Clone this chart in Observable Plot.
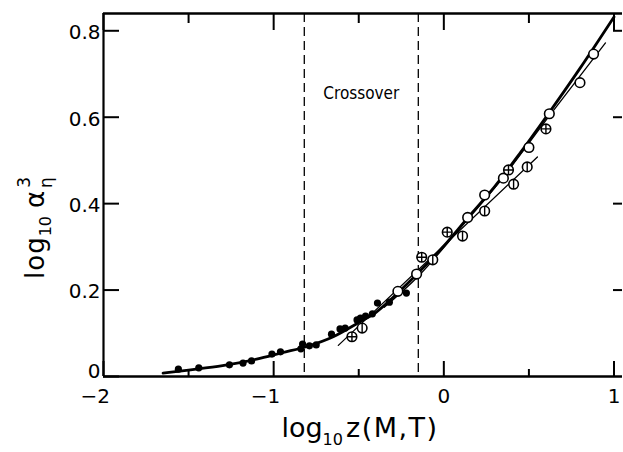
<!DOCTYPE html>
<html>
<head>
<meta charset="utf-8">
<script src="https://cdn.jsdelivr.net/npm/d3@7"></script>
<script src="https://cdn.jsdelivr.net/npm/@observablehq/plot@0.6"></script>
<style>
  html, body { margin: 0; padding: 0; background: #fff; }
  #chart svg { display: block; font-family: "DejaVu Sans", sans-serif; }
</style>
</head>
<body>
<div id="chart"></div>
<script>
// ---- data ----
const xMajorTicks = [-2, -1, 0, 1];
const xMinorTicks = [-1.5, -0.5, 0.5];
const yTicks = [0, 0.2, 0.4, 0.6, 0.8];
const yTickLabels = ["0", "0.2", "0.4", "0.6", "0.8"];
const xTickLabels = ["\u22122", "\u22121", "0", "1"];

const crossoverBounds = [-0.82, -0.15];
const crossoverLabel = "Crossover";
const crossoverLabelY = 0.655;

// filled dots
const filledX = [-1.56, -1.44, -1.26, -1.18, -1.13, -1.01, -0.96, -0.84, -0.83, -0.79, -0.75, -0.66, -0.61, -0.58, -0.51, -0.49, -0.46, -0.42, -0.39, -0.32, -0.22];
const filledY = [0.017, 0.020, 0.027, 0.031, 0.036, 0.052, 0.057, 0.064, 0.075, 0.071, 0.073, 0.098, 0.110, 0.112, 0.131, 0.135, 0.140, 0.145, 0.170, 0.172, 0.193];

// open circles
const openX = [-0.27, -0.16, 0.14, 0.24, 0.35, 0.50, 0.62, 0.80, 0.88];
const openY = [0.197, 0.237, 0.368, 0.420, 0.459, 0.530, 0.608, 0.680, 0.746];

// circles with a cross
const crossX = [-0.54, -0.13, 0.02, 0.38, 0.60];
const crossY = [0.092, 0.276, 0.334, 0.478, 0.573];

// circles with a vertical bar
const barX = [-0.48, -0.065, 0.11, 0.24, 0.41, 0.49];
const barY = [0.112, 0.270, 0.325, 0.383, 0.445, 0.485];

// thick master curve
const mainX = [-1.65, -1.5, -1.3, -1.1, -0.95, -0.8, -0.65, -0.5, -0.4, -0.29, -0.14, 0, 0.14, 0.3, 0.45, 0.6, 0.8, 1.0];
const mainY = [0.008, 0.015, 0.025, 0.040, 0.055, 0.070, 0.092, 0.125, 0.148, 0.186, 0.244, 0.302, 0.367, 0.440, 0.518, 0.600, 0.713, 0.832];

// thin upper line
const upperX = [-0.35, -0.15, 0.1, 0.3, 0.62, 0.95];
const upperY = [0.160, 0.232, 0.345, 0.437, 0.603, 0.772];

// thin lower line
const lowerX = [-0.62, 0.55];
const lowerY = [0.072, 0.508];

const zip = (xs, ys) => xs.map((x, i) => ({x, y: ys[i]}));
const filledPts = zip(filledX, filledY);
const openPts = zip(openX, openY);
const crossPts = zip(crossX, crossY);
const barPts = zip(barX, barY);
const mainPts = zip(mainX, mainY);
const upperPts = zip(upperX, upperY);
const lowerPts = zip(lowerX, lowerY);

const vbarSymbol = {
  draw(context, size) {
    const r = Math.sqrt(size / Math.PI);
    context.moveTo(0, -r);
    context.lineTo(0, r);
  }
};
const plusSymbol = {
  draw(context, size) {
    const r = Math.sqrt(size / Math.PI);
    context.moveTo(0, -r);
    context.lineTo(0, r);
    context.moveTo(-r, 0);
    context.lineTo(r, 0);
  }
};

const W = 623, H = 452, ML = 103, MR = 1, MT = 13, MB = 76;
const FW = W - ML - MR, FH = H - MT - MB;

const font = "DejaVu Sans, sans-serif";

const chart = Plot.plot({
  width: W,
  height: H,
  marginLeft: ML,
  marginRight: MR,
  marginTop: MT,
  marginBottom: MB,
  x: {domain: [-2, 1.05], axis: null},
  y: {domain: [0, 0.84], axis: null},
  marks: [
    Plot.ruleX(crossoverBounds, {stroke: "#000", strokeWidth: 1.3, strokeDasharray: "9,5"}),
    Plot.ruleX([-2], {stroke: "#000", strokeWidth: 2.2}),
    Plot.ruleY([0, 0.84], {stroke: "#000", strokeWidth: 2.4}),
    // inward ticks
    Plot.ruleX(xMajorTicks, {insetTop: FH - 15, stroke: "#000", strokeWidth: 2}),
    Plot.ruleX(xMinorTicks, {insetTop: FH - 7, stroke: "#000", strokeWidth: 2}),
    Plot.ruleX(xMajorTicks, {insetBottom: FH - 17, stroke: "#000", strokeWidth: 2}),
    Plot.ruleX(xMinorTicks, {insetBottom: FH - 10, stroke: "#000", strokeWidth: 2}),
    Plot.ruleY(yTicks, {insetRight: FW - 16, stroke: "#000", strokeWidth: 2}),
    Plot.ruleY(yTicks.filter(v => v > 0), {insetLeft: FW - 9, stroke: "#000", strokeWidth: 2}),
    // tick labels
    Plot.text(xMajorTicks, {x: d => d, text: (d, i) => xTickLabels[i], frameAnchor: "bottom", lineAnchor: "top", dy: 12, textAnchor: "end", dx: 6.5, fontSize: 20, fill: "#000", fontFamily: font}),
    Plot.text(yTicks.slice(1), {y: d => d, text: (d, i) => yTickLabels[i + 1], frameAnchor: "left", textAnchor: "end", dx: -3, dy: 2, fontSize: 20, fill: "#000", fontFamily: font}),
    Plot.text(yTicks.slice(0, 1), {y: d => d, text: (d, i) => yTickLabels[i], frameAnchor: "left", textAnchor: "end", dx: -3, dy: -5, fontSize: 20, fill: "#000", fontFamily: font}),
    Plot.text([crossoverLabel], {x: (crossoverBounds[0] + crossoverBounds[1]) / 2, y: crossoverLabelY, text: d => d, fontSize: 17, fill: "#000", fontFamily: "DejaVu Sans Condensed, DejaVu Sans, sans-serif"}),
    // lines
    Plot.line(lowerPts, {x: "x", y: "y", stroke: "#000", strokeWidth: 1.3}),
    Plot.line(upperPts, {x: "x", y: "y", stroke: "#000", strokeWidth: 1.3, curve: "monotone-x"}),
    Plot.line(mainPts, {x: "x", y: "y", stroke: "#000", strokeWidth: 2.8, curve: "monotone-x"}),
    // markers
    Plot.dot(filledPts, {x: "x", y: "y", r: 3.6, fill: "#000"}),
    Plot.dot(openPts, {x: "x", y: "y", r: 4.8, fill: "#fff", stroke: "#000", strokeWidth: 1.6}),
    Plot.dot(crossPts, {x: "x", y: "y", r: 4.8, fill: "#fff", stroke: "#000", strokeWidth: 1.6}),
    Plot.dot(crossPts, {x: "x", y: "y", r: 4.8, symbol: plusSymbol, fill: "none", stroke: "#000", strokeWidth: 1.4}),
    Plot.dot(barPts, {x: "x", y: "y", r: 4.8, fill: "#fff", stroke: "#000", strokeWidth: 1.6}),
    Plot.dot(barPts, {x: "x", y: "y", r: 4.8, symbol: vbarSymbol, fill: "none", stroke: "#000", strokeWidth: 1.4})
  ]
});

document.getElementById("chart").appendChild(chart);

const svg = d3.select(chart);

// axis titles with sub/superscripts
const xt = svg.append("text")
  .attr("x", 360).attr("y", 437)
  .attr("text-anchor", "middle")
  .attr("font-family", font).attr("font-size", 27).attr("fill", "#000");
xt.append("tspan").text("log");
xt.append("tspan").attr("font-size", 16).attr("dy", 8).text("10");
xt.append("tspan").attr("dy", -8).attr("dx", 3).attr("letter-spacing", 1.5).text("z(M,T)");

const yt = svg.append("text")
  .attr("transform", "translate(44,228) rotate(-90)")
  .attr("text-anchor", "middle")
  .attr("font-family", font).attr("font-size", 26).attr("fill", "#000");
yt.append("tspan").attr("letter-spacing", 1).text("log");
yt.append("tspan").attr("font-size", 16).attr("dy", 7).text("10");
yt.append("tspan").attr("dy", -7).attr("dx", 8).text("\u03b1");
yt.append("tspan").attr("font-size", 17).attr("dy", -14).attr("dx", 3).text("3");
yt.append("tspan").attr("font-size", 17).attr("dy", 22).attr("dx", -11).text("\u03b7");
</script>
</body>
</html>
